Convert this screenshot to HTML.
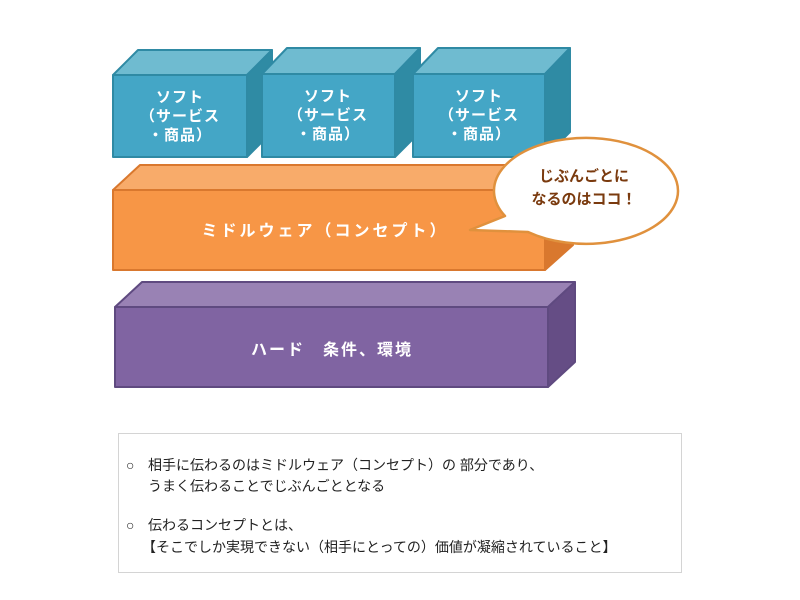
<!DOCTYPE html>
<html><head><meta charset="utf-8"><style>
html,body{margin:0;padding:0;background:#fff;width:800px;height:600px;overflow:hidden}
svg{display:block}
text{font-family:"Liberation Sans","Noto Sans CJK JP",sans-serif}
</style></head><body>
<svg width="800" height="600" viewBox="0 0 800 600" xmlns="http://www.w3.org/2000/svg">
<g stroke-width="2" stroke-linejoin="round">
<polygon points="113,75 138,50 272,50 247,75" fill="#6fbbd0" stroke="#2f8aa4"/>
<polygon points="247,75 272,50 272,132 247,157" fill="#2f8ba4" stroke="#2f8aa4"/>
<rect x="113" y="75" width="134" height="82" fill="#44a6c6" stroke="#2f8aa4"/>
<polygon points="262,74 287,48 420,48 395,74" fill="#6fbbd0" stroke="#2f8aa4"/>
<polygon points="395,74 420,48 420,132 395,157" fill="#2f8ba4" stroke="#2f8aa4"/>
<rect x="262" y="74" width="133" height="83" fill="#44a6c6" stroke="#2f8aa4"/>
<polygon points="413,74 438,48 570,48 545,74" fill="#6fbbd0" stroke="#2f8aa4"/>
<polygon points="545,74 570,48 570,132 545,157" fill="#2f8ba4" stroke="#2f8aa4"/>
<rect x="413" y="74" width="132" height="83" fill="#44a6c6" stroke="#2f8aa4"/>
<polygon points="113,190 140,165 573,165 545,190" fill="#f8ab6a" stroke="#d9782e"/>
<polygon points="545,190 573,165 573,245 545,270" fill="#d9782e" stroke="#d9782e"/>
<rect x="113" y="190" width="432" height="80" fill="#f79646" stroke="#d9782e"/>
<polygon points="115,307 142,282 575,282 548,307" fill="#9982b4" stroke="#5f4a80"/>
<polygon points="548,307 575,282 575,362 548,387" fill="#654d85" stroke="#5f4a80"/>
<rect x="115" y="307" width="433" height="80" fill="#8064a2" stroke="#5f4a80"/>
</g>
<g fill="#fff" font-size="15" font-weight="bold" text-anchor="middle" letter-spacing="1">
<text x="180" y="102">ソフト</text><text x="180" y="121">（サービス</text><text x="180" y="140">・商品）</text>
<text x="328" y="101">ソフト</text><text x="328" y="120">（サービス</text><text x="328" y="139">・商品）</text>
<text x="479" y="101">ソフト</text><text x="479" y="120">（サービス</text><text x="479" y="139">・商品）</text>
<text x="325" y="236" font-size="16" letter-spacing="3">ミドルウェア（コンセプト）</text>
<text x="332" y="355" font-size="16" letter-spacing="2">ハード　条件、環境</text>
</g>
<path d="M470,230 L505,216 A92,53 0 1 1 528,232 Z" fill="#fff" stroke="#e0913d" stroke-width="2.5" stroke-linejoin="round"/>
<g fill="#7a3a0e" font-size="15" font-weight="bold" text-anchor="middle">
<text x="584" y="181">じぶんごとに</text>
<text x="584" y="204">なるのはココ！</text>
</g>
<rect x="118.5" y="433.5" width="563" height="139" fill="#fff" stroke="#d4d4d4"/>
<g font-size="14" fill="#222">
<text x="126" y="470" font-family="Noto Sans CJK JP">○</text>
<text x="148" y="470">相手に伝わるのはミドルウェア（コンセプト）の 部分であり、</text>
<text x="148" y="491">うまく伝わることでじぶんごととなる</text>
<text x="126" y="530" font-family="Noto Sans CJK JP">○</text>
<text x="148" y="530">伝わるコンセプトとは、</text>
<text x="142" y="552">【そこでしか実現できない（相手にとっての）価値が凝縮されていること】</text>
</g>
</svg>
</body></html>
